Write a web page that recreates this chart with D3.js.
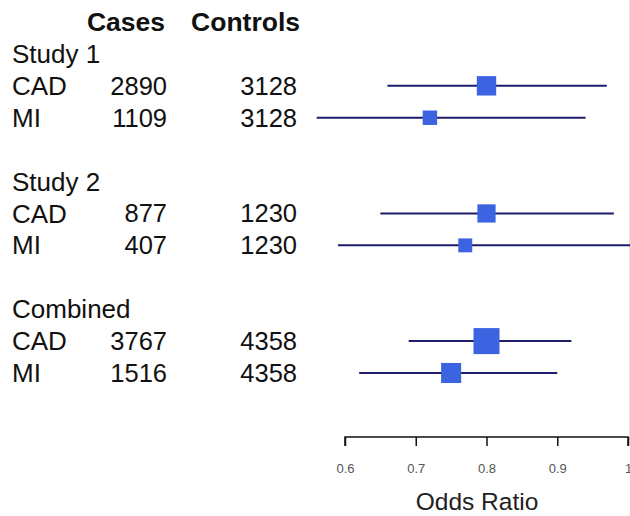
<!DOCTYPE html>
<html>
<head>
<meta charset="utf-8">
<script src="https://cdn.jsdelivr.net/npm/d3@7"></script>
<style>
  body { margin: 0; background: #fff; }
  text { font-family: "Liberation Sans", Arial, sans-serif; }
</style>
</head>
<body>
<script>
// rows of the table
var groups   = ["Study 1", "Study 2", "Combined"];
var outcomes = ["CAD", "MI", "CAD", "MI", "CAD", "MI"];
var cases    = [2890, 1109, 877, 407, 3767, 1516];
var controls = [3128, 3128, 1230, 1230, 4358, 4358];
var oddsRatio = [0.80, 0.72, 0.80, 0.77, 0.80, 0.75];
var lower     = [0.66, 0.56, 0.65, 0.59, 0.69, 0.62];
var upper     = [0.97, 0.94, 0.98, 1.01, 0.92, 0.90];
var tickValues = [0.6, 0.7, 0.8, 0.9, 1];

var width = 630,
    height = 516;

var svg = d3.select("body").append("svg")
    .attr("width", width)
    .attr("height", height);

// row 0 header, then each group = heading + 2 rows + blank
var rowOf = function (i) { return 2 + Math.floor(i / 2) * 4 + (i % 2); };

var yScale = d3.scaleLinear().domain([0, 11]).range([22, 373]);
var xScale = d3.scaleLinear().domain([0.6, 1]).range([345, 628]);

// box size ~ inverse of log CI width
var logW = lower.map(function (l, i) { return Math.log(upper[i]) - Math.log(l); });
var sizeScale = d3.scaleLinear()
    .domain([0, 1 / d3.min(logW)])
    .range([0, 26]);

svg.append("line")
    .attr("x1", 629.5).attr("x2", 629.5)
    .attr("y1", 0).attr("y2", 440)
    .attr("stroke", "#e4e4e4");

// header
var head = svg.append("g").attr("font-weight", "bold").attr("font-size", 26.5)
    .attr("text-anchor", "end").attr("fill", "#111");
head.append("text").attr("x", 165).attr("y", yScale(0)).attr("dy", "0.35em").text("Cases");
head.append("text").attr("x", 300).attr("y", yScale(0)).attr("dy", "0.35em").text("Controls");

svg.selectAll("text.group")
  .data(groups)
  .enter().append("text")
  .attr("class", "group")
  .attr("x", 12)
  .attr("y", function (d, i) { return yScale(1 + i * 4); })
  .attr("dy", "0.35em")
  .attr("font-size", 26)
  .attr("fill", "#111")
  .text(function (d) { return d; });

var rows = svg.selectAll("g.row")
  .data(outcomes)
  .enter().append("g")
  .attr("class", "row")
  .attr("transform", function (d, i) { return "translate(0," + yScale(rowOf(i)) + ")"; });

rows.append("text")
  .attr("x", 12).attr("dy", "0.35em").attr("font-size", 26).attr("fill", "#111")
  .text(function (d) { return d; });

rows.append("text")
  .attr("x", 167).attr("dy", "0.35em").attr("font-size", 25.5).attr("fill", "#111")
  .attr("text-anchor", "end")
  .text(function (d, i) { return cases[i]; });

rows.append("text")
  .attr("x", 297).attr("dy", "0.35em").attr("font-size", 25.5).attr("fill", "#111")
  .attr("text-anchor", "end")
  .text(function (d, i) { return controls[i]; });

rows.append("line")
  .attr("x1", function (d, i) { return xScale(lower[i]); })
  .attr("x2", function (d, i) { return xScale(upper[i]); })
  .attr("stroke", "#1c1c6b")
  .attr("stroke-width", 2);

rows.append("rect")
  .attr("x", function (d, i) { return xScale(oddsRatio[i]) - sizeScale(1 / logW[i]) / 2; })
  .attr("y", function (d, i) { return -sizeScale(1 / logW[i]) / 2; })
  .attr("width", function (d, i) { return sizeScale(1 / logW[i]); })
  .attr("height", function (d, i) { return sizeScale(1 / logW[i]); })
  .attr("fill", "#3d64e0");

// x axis
var axis = svg.append("g")
  .attr("transform", "translate(0,437)")
  .call(d3.axisBottom(xScale)
    .tickValues(tickValues)
    .tickSize(9)
    .tickPadding(18)
    .tickFormat(d3.format("")));

axis.select(".domain").attr("stroke", "#111").attr("stroke-width", 1.5)
    .attr("d", "M" + xScale(0.6) + ",9V0H" + xScale(1) + "V9");
axis.selectAll(".tick line").attr("stroke", "#111").attr("stroke-width", 1.5);
axis.selectAll(".tick text").attr("font-size", 13).attr("fill", "#555")
    .attr("font-family", "'Liberation Sans', Arial, sans-serif");

svg.append("text")
  .attr("x", 477).attr("y", 510)
  .attr("text-anchor", "middle")
  .attr("font-size", 24.5)
  .attr("fill", "#222")
  .text("Odds Ratio");
</script>
</body>
</html>
